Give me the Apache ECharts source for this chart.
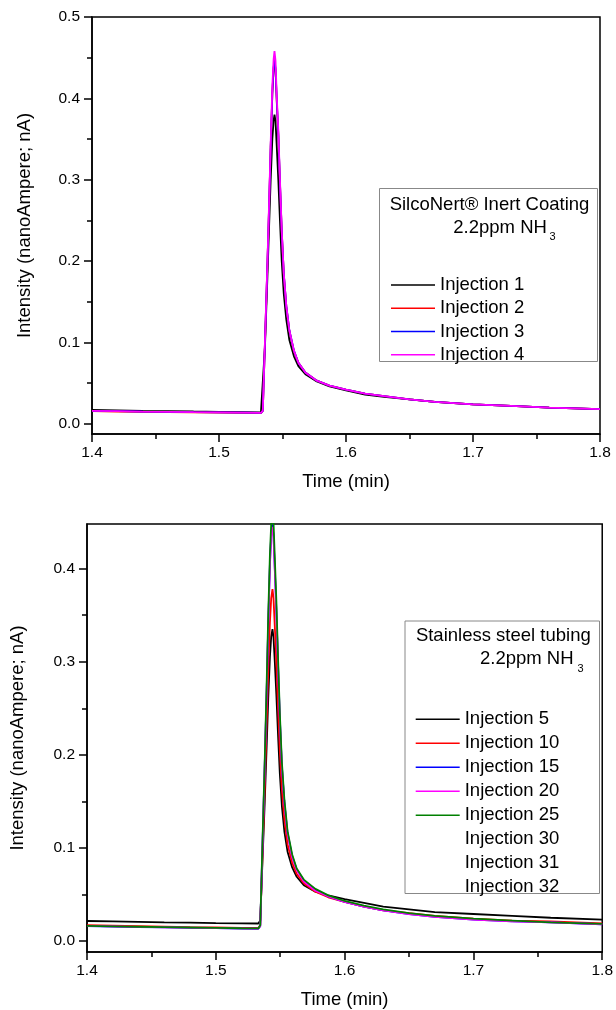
<!DOCTYPE html>
<html>
<head>
<meta charset="utf-8">
<script src="https://cdn.jsdelivr.net/npm/echarts@6/dist/echarts.min.js"></script>
<style>html,body{margin:0;padding:0;background:#fff;}#c{width:616px;height:1010px;}</style>
</head>
<body>
<div id="c"></div>
<script>
// ---- data ----
const timeTop = [1.400,1.420,1.440,1.460,1.480,1.500,1.520,1.533,1.5345,1.5362,1.5380,1.5395,1.5407,1.5420,1.5430,1.5437,1.5445,1.5455,1.5467,1.5480,1.5494,1.5510,1.5530,1.5554,1.5590,1.5625,1.5680,1.5770,1.5870,1.6000,1.6150,1.6300,1.6500,1.6700,1.7000,1.7300,1.7600,1.8000];
const inj1 = [0.0170,0.0165,0.0160,0.0157,0.0152,0.0148,0.0145,0.0142,0.016,0.095,0.175,0.245,0.300,0.350,0.373,0.380,0.372,0.340,0.300,0.250,0.200,0.160,0.128,0.103,0.083,0.071,0.061,0.052,0.046,0.041,0.036,0.033,0.030,0.027,0.024,0.022,0.020,0.018];
const inj2 = [0.0155,0.0150,0.0146,0.0143,0.0140,0.0137,0.0134,0.0132,0.016,0.100,0.190,0.270,0.340,0.405,0.437,0.445,0.435,0.395,0.355,0.296,0.236,0.184,0.144,0.114,0.089,0.075,0.063,0.053,0.047,0.042,0.037,0.034,0.030,0.027,0.024,0.022,0.020,0.018];
const inj3 = [0.0160,0.0155,0.0150,0.0147,0.0143,0.0140,0.0137,0.0135,0.016,0.100,0.190,0.270,0.340,0.406,0.438,0.447,0.437,0.397,0.357,0.297,0.237,0.185,0.145,0.115,0.090,0.075,0.063,0.053,0.047,0.042,0.037,0.034,0.030,0.027,0.024,0.022,0.020,0.018];
const inj4 = [0.0160,0.0155,0.0150,0.0147,0.0143,0.0140,0.0137,0.0135,0.016,0.102,0.192,0.275,0.345,0.415,0.448,0.458,0.446,0.402,0.361,0.300,0.238,0.185,0.145,0.115,0.090,0.075,0.063,0.053,0.047,0.042,0.037,0.034,0.030,0.027,0.024,0.022,0.020,0.018];

const timeBottom = [1.400,1.420,1.440,1.460,1.480,1.500,1.520,1.533,1.5345,1.5362,1.5380,1.5395,1.5407,1.5420,1.5430,1.5440,1.5448,1.5458,1.5470,1.5483,1.5497,1.5513,1.5533,1.5557,1.5593,1.5628,1.5683,1.5773,1.5873,1.6000,1.6150,1.6300,1.6500,1.6700,1.7000,1.7300,1.7600,1.8000];
const inj5  = [0.0215,0.0210,0.0205,0.0200,0.0197,0.0193,0.0190,0.0188,0.022,0.085,0.150,0.210,0.260,0.305,0.327,0.335,0.326,0.300,0.265,0.222,0.180,0.145,0.117,0.096,0.079,0.069,0.060,0.053,0.049,0.045,0.041,0.037,0.034,0.031,0.029,0.027,0.025,0.023];
const inj10 = [0.0170,0.0165,0.0160,0.0155,0.0150,0.0146,0.0142,0.0140,0.017,0.090,0.165,0.235,0.290,0.342,0.368,0.378,0.368,0.338,0.300,0.252,0.205,0.163,0.130,0.104,0.084,0.072,0.062,0.053,0.047,0.042,0.037,0.033,0.030,0.027,0.024,0.022,0.021,0.019];
const inj15 = [0.0160,0.0155,0.0150,0.0146,0.0142,0.0138,0.0134,0.0132,0.016,0.100,0.190,0.270,0.340,0.405,0.437,0.447,0.436,0.400,0.356,0.298,0.240,0.188,0.148,0.116,0.091,0.077,0.065,0.055,0.048,0.042,0.037,0.033,0.029,0.026,0.023,0.021,0.020,0.018];
const inj20 = [0.0162,0.0157,0.0152,0.0148,0.0144,0.0140,0.0136,0.0134,0.016,0.100,0.190,0.268,0.338,0.402,0.435,0.445,0.434,0.398,0.354,0.296,0.238,0.187,0.147,0.115,0.090,0.076,0.064,0.054,0.048,0.042,0.037,0.033,0.029,0.026,0.023,0.021,0.020,0.018];
const inj25 = [0.0163,0.0158,0.0153,0.0149,0.0145,0.0141,0.0137,0.0135,0.017,0.105,0.195,0.278,0.350,0.415,0.448,0.460,0.450,0.412,0.366,0.305,0.245,0.192,0.151,0.118,0.093,0.078,0.066,0.056,0.049,0.043,0.038,0.034,0.030,0.027,0.024,0.022,0.020,0.0185];

const yLabelsTop = [0, 0.1, 0.2, 0.3, 0.4, 0.5];
const yMinorTop = [0.05, 0.15, 0.25, 0.35, 0.45];
const yLabelsBottom = [0, 0.1, 0.2, 0.3, 0.4];
const yMinorBottom = [0.05, 0.15, 0.25, 0.35];

const legendTop = ['Injection 1','Injection 2','Injection 3','Injection 4'];
const legendBottom = ['Injection 5','Injection 10','Injection 15','Injection 20','Injection 25','Injection 30','Injection 31','Injection 32'];

// ---- chart ----
const FONT = 'Liberation Sans, Arial, sans-serif';
const pair = (xs, ys) => xs.map((x, i) => [x, ys[i]]);

function xAxis(gridIndex) {
  return {
    type: 'value', gridIndex, min: 1.4, max: 1.8, interval: 0.1,
    name: 'Time (min)', nameLocation: 'middle', nameGap: 38,
    nameTextStyle: { fontFamily: FONT, fontSize: 18.5, color: '#000' },
    axisLine: { show: true, onZero: false, lineStyle: { color: '#000', width: 1.5 } },
    axisTick: { show: true, inside: false, length: 8, lineStyle: { color: '#000', width: 1.5 } },
    minorTick: { show: true, splitNumber: 2, length: 5, lineStyle: { color: '#000', width: 1.5 } },
    axisLabel: { fontFamily: FONT, fontSize: 15.5, color: '#000', margin: 11, formatter: v => v.toFixed(1) },
    splitLine: { show: false }, minorSplitLine: { show: false }
  };
}
function yMain(gridIndex, min, max, labels, nameGap) {
  return {
    type: 'value', gridIndex, min, max, position: 'left',
    name: 'Intensity (nanoAmpere; nA)', nameLocation: 'middle', nameGap,
    nameTextStyle: { fontFamily: FONT, fontSize: 18.5, color: '#000' },
    axisLine: { show: true, onZero: false, lineStyle: { color: '#000', width: 1.5 } },
    axisTick: { show: true, inside: false, length: 8, customValues: labels, lineStyle: { color: '#000', width: 1.5 } },
    axisLabel: { fontFamily: FONT, fontSize: 15.5, color: '#000', margin: 12, customValues: labels, formatter: v => v.toFixed(1) },
    splitLine: { show: false }
  };
}
function yMinor(gridIndex, min, max, ticks) {
  return {
    type: 'value', gridIndex, min, max, position: 'left',
    axisLine: { show: false, onZero: false },
    axisTick: { show: true, inside: false, length: 5, customValues: ticks, lineStyle: { color: '#000', width: 1.5 } },
    axisLabel: { show: false },
    splitLine: { show: false }
  };
}
function line(name, xs, ys, color, xi, yi) {
  return {
    type: 'line', name, data: pair(xs, ys), xAxisIndex: xi, yAxisIndex: yi,
    showSymbol: false, symbol: 'none', color, lineStyle: { color, width: 1.8 }, animation: false, clip: true
  };
}
function empty(name, xi, yi) {
  return { type: 'line', name, data: [], xAxisIndex: xi, yAxisIndex: yi, showSymbol: false, symbol: 'none', color: 'rgba(0,0,0,0)', lineStyle: { color: 'rgba(0,0,0,0)' } };
}

const TOP_MIN = -0.0125, TOP_MAX = 0.5;
const BOT_MIN = -0.0118, BOT_MAX = 0.448;

const legendCommon = {
  orient: 'vertical', icon: 'rect', itemWidth: 44, itemHeight: 1.5, itemGap: 0,
  selectedMode: false,
  textStyle: { fontFamily: FONT, fontSize: 18.5, color: '#000' }
};

const option = {
  backgroundColor: '#fff',
  animation: false,
  grid: [
    { left: 92, top: 17, width: 508, height: 417, show: true, borderColor: '#000', borderWidth: 1.5, backgroundColor: 'transparent' },
    { left: 85.5, top: 524, width: 520.3, height: 429.5, show: true, borderColor: '#000', borderWidth: 1.5, backgroundColor: 'transparent' }
  ],
  xAxis: [xAxis(0), xAxis(1)],
  yAxis: [
    yMain(0, TOP_MIN, TOP_MAX, yLabelsTop, 58),
    yMinor(0, TOP_MIN, TOP_MAX, yMinorTop),
    yMain(1, BOT_MIN, BOT_MAX, yLabelsBottom, 60),
    yMinor(1, BOT_MIN, BOT_MAX, yMinorBottom)
  ],
  legend: [
    Object.assign({}, legendCommon, { data: legendTop, left: 386, top: 268.3, textStyle: Object.assign({}, legendCommon.textStyle, { lineHeight: 23.3 }) }),
    Object.assign({}, legendCommon, { data: legendBottom, left: 410.7, top: 702.3, textStyle: Object.assign({}, legendCommon.textStyle, { lineHeight: 24 }) })
  ],
  series: [
    line('Injection 1', timeTop, inj1, '#000000', 0, 0),
    line('Injection 2', timeTop, inj2, '#ff0000', 0, 0),
    line('Injection 3', timeTop, inj3, '#0000ff', 0, 0),
    line('Injection 4', timeTop, inj4, '#ff00ff', 0, 0),
    line('Injection 5', timeBottom, inj5, '#000000', 1, 2),
    line('Injection 10', timeBottom, inj10, '#ff0000', 1, 2),
    line('Injection 15', timeBottom, inj15, '#0000ff', 1, 2),
    line('Injection 20', timeBottom, inj20, '#ff00ff', 1, 2),
    line('Injection 25', timeBottom, inj25, '#008000', 1, 2),
    empty('Injection 30', 1, 2),
    empty('Injection 31', 1, 2),
    empty('Injection 32', 1, 2)
  ],
  graphic: [
    { type: 'rect', shape: { x: 379.5, y: 188.5, width: 218, height: 173 }, style: { fill: 'transparent', stroke: '#888', lineWidth: 1 }, z: 1 },
    { type: 'text', x: 489.5, y: 205, style: { text: 'SilcoNert® Inert Coating', font: '18.5px ' + FONT, fill: '#000', align: 'center', verticalAlign: 'middle' } },
    { type: 'text', x: 453.3, y: 228.3, style: { text: '2.2ppm NH', font: '18.5px ' + FONT, fill: '#000', align: 'left', verticalAlign: 'middle' } },
    { type: 'text', x: 549.5, y: 236.5, style: { text: '3', font: '11px ' + FONT, fill: '#000', align: 'left', verticalAlign: 'middle' } },
    { type: 'rect', shape: { x: 405, y: 621, width: 194.5, height: 272.5 }, style: { fill: 'transparent', stroke: '#888', lineWidth: 1 }, z: 1 },
    { type: 'text', x: 503.3, y: 636, style: { text: 'Stainless steel tubing', font: '18.5px ' + FONT, fill: '#000', align: 'center', verticalAlign: 'middle' } },
    { type: 'text', x: 480, y: 659, style: { text: '2.2ppm NH', font: '18.5px ' + FONT, fill: '#000', align: 'left', verticalAlign: 'middle' } },
    { type: 'text', x: 577.5, y: 669, style: { text: '3', font: '11px ' + FONT, fill: '#000', align: 'left', verticalAlign: 'middle' } }
  ]
};

const chart = echarts.init(document.getElementById('c'), null, { renderer: 'canvas', width: 616, height: 1010 });
chart.setOption(option);
</script>
</body>
</html>
